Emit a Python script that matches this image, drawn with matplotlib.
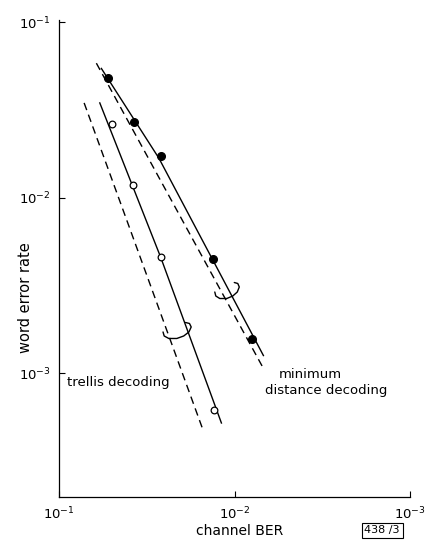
import numpy as np
import matplotlib
matplotlib.use("Agg")
import matplotlib.pyplot as plt
import matplotlib.transforms as transforms
from matplotlib.ticker import LogLocator, NullLocator

# measured points (channel BER, word error rate)
md_ber = [0.0527, 0.0375, 0.0262, 0.0133, 0.00793]
md_wer = [0.0484, 0.0272, 0.0173, 0.00451, 0.00157]
tr_ber = [0.0503, 0.0382, 0.0263, 0.01305]
tr_wer = [0.0263, 0.01178, 0.0046, 0.000618]

# fitted curves (solid) and bounds (dashed)
md_fit_ber = [0.0575, 0.0270, 0.00685]
md_fit_wer = [0.0547, 0.01683, 0.001265]
md_bnd_ber = [0.0614, 0.00681]
md_bnd_wer = [0.0586, 0.001057]
tr_fit_ber = [0.0587, 0.02634, 0.01189]
tr_fit_wer = [0.0348, 0.00457, 0.000522]
tr_bnd_ber = [0.0721, 0.0151]
tr_bnd_wer = [0.0348, 0.000473]

# brace positions (where the pair of curves is grouped)
brace_md = (0.01108, 0.00295)
brace_tr = (0.02135, 0.001746)

fig = plt.figure(figsize=(4.26, 5.43), dpi=100)
ax = fig.add_axes([0.139, 0.0847, 0.8234, 0.8785])

lw = 1.0
ax.plot(md_fit_ber, md_fit_wer, color='black', lw=lw)
ax.plot(md_bnd_ber, md_bnd_wer, color='black', lw=lw, ls=(0, (5.5, 3.5)))
ax.plot(tr_fit_ber, tr_fit_wer, color='black', lw=lw)
ax.plot(tr_bnd_ber, tr_bnd_wer, color='black', lw=lw, ls=(0, (5.5, 3.5)))

ax.plot(md_ber, md_wer, 'o', color='black', ms=5.5)
ax.plot(tr_ber, tr_wer, 'o', mfc='white', mec='black', mew=0.9, ms=4.8)

# brace shape, in pixels around its anchor
bx = np.array([-12, -11, -7, 0, 6, 10.5, 12.5, 11, 7.5])
by = np.array([-1, -5, -7.5, -7.5, -5, -1, 4, 7.5, 8.5])
for (xa, ya), sx in [(brace_md, 1.0), (brace_tr, 1.15)]:
    tr = fig.dpi_scale_trans + transforms.ScaledTranslation(xa, ya, ax.transData)
    ax.plot(bx * sx / 100.0, by / 100.0, color='black', lw=lw, transform=tr,
            solid_capstyle='round')

ax.set_xscale('log')
ax.set_yscale('log')
ax.set_xlim(1e-1, 1e-3)
ax.set_ylim(1.977e-4, 0.1033)

for a in (ax.xaxis, ax.yaxis):
    a.set_major_locator(LogLocator(base=10, numticks=10))
    a.set_minor_locator(NullLocator())
ax.tick_params(direction='in', length=4, width=0.8, labelsize=9.5, pad=6)

ax.spines['top'].set_visible(False)
ax.spines['right'].set_visible(False)
ax.spines['left'].set_linewidth(0.9)
ax.spines['bottom'].set_linewidth(0.9)

ax.set_xlabel('channel BER', fontsize=10)
ax.xaxis.set_label_coords(0.515, -0.056)
ax.set_ylabel('word error rate', fontsize=10.5)
ax.yaxis.set_label_coords(-0.075, 0.417)

ax.text(0.023, 0.239, 'trellis decoding', transform=ax.transAxes,
        fontsize=9.5, va='center', ha='left')
ax.text(0.627, 0.256, 'minimum', transform=ax.transAxes,
        fontsize=9.5, va='center', ha='left')
ax.text(0.587, 0.224, 'distance decoding', transform=ax.transAxes,
        fontsize=9.5, va='center', ha='left')

fig.text(0.897, 0.014, '438 /3', fontsize=8, ha='center', va='bottom',
         bbox=dict(boxstyle='square,pad=0.25', fc='white', ec='black', lw=0.8))

fig.savefig('out.png', dpi=100)
